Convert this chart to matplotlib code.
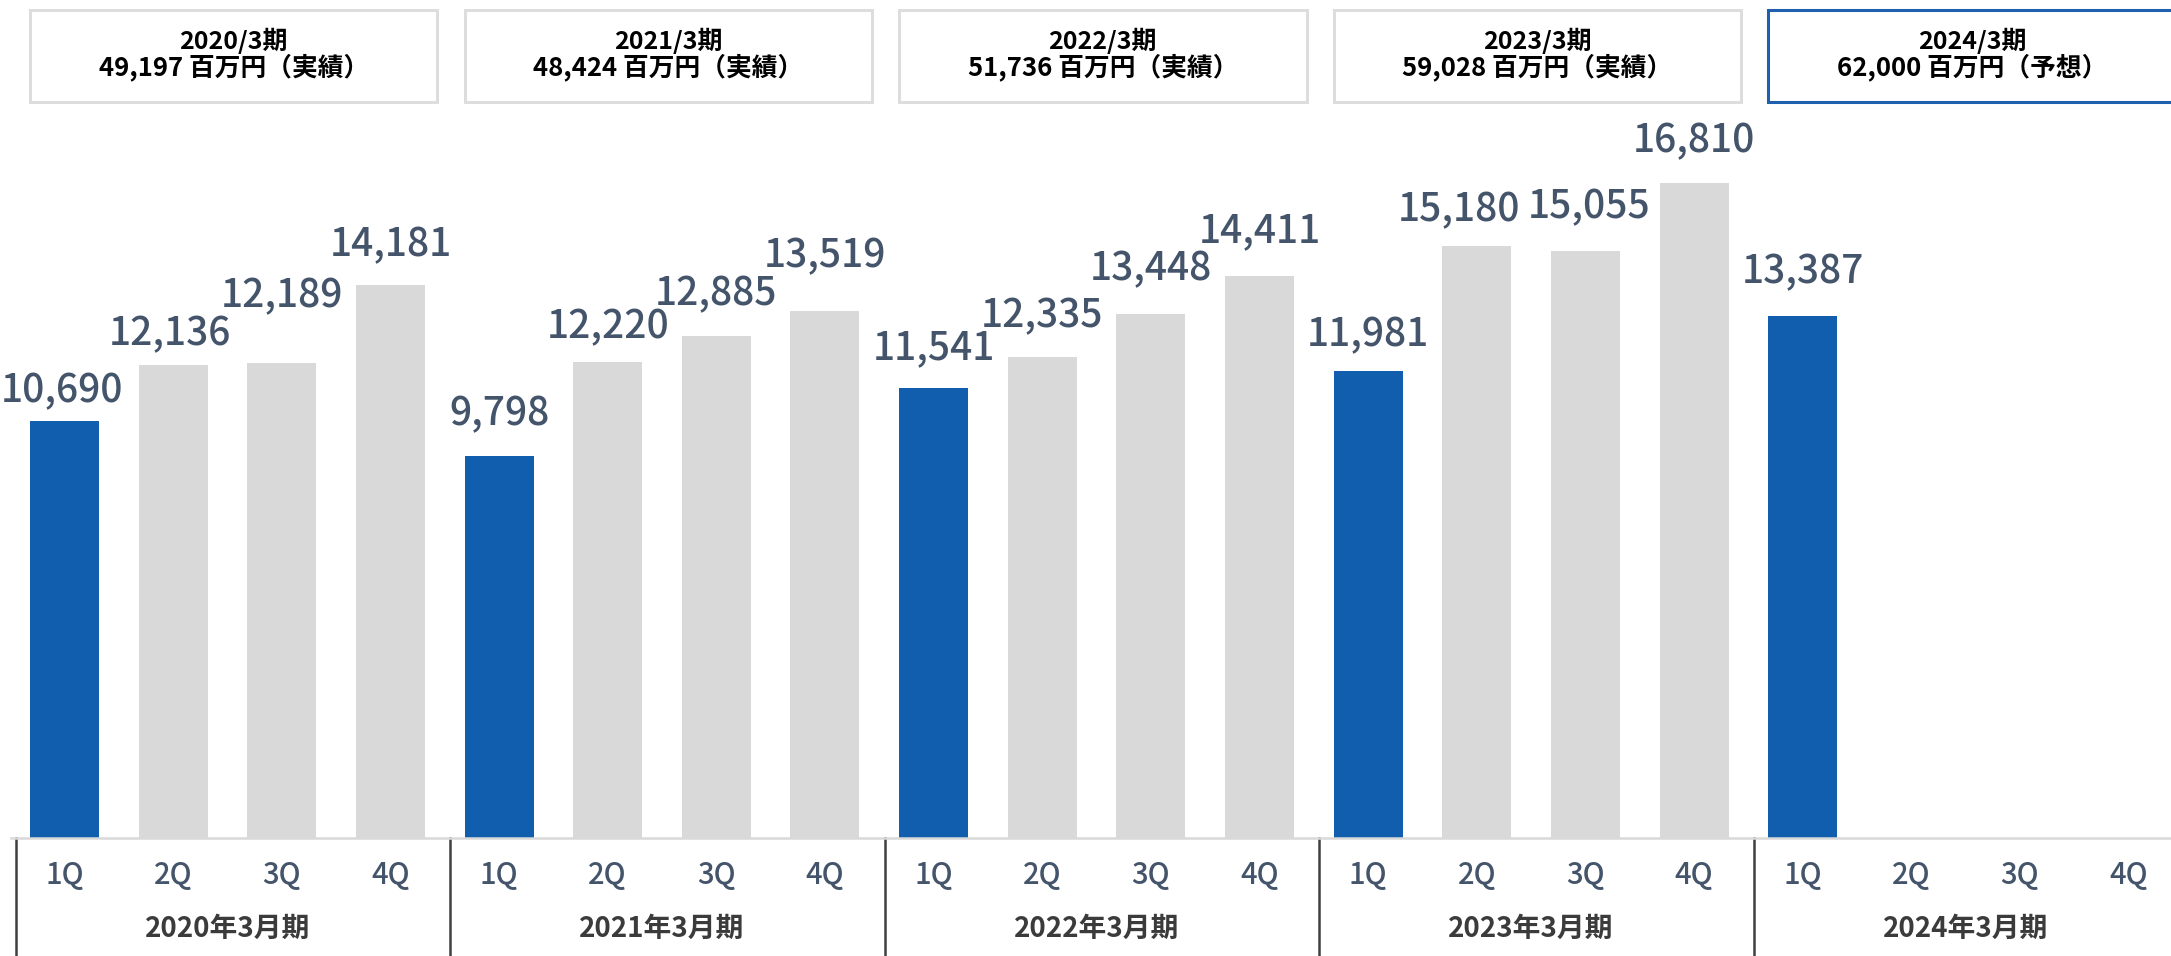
import matplotlib.pyplot as plt
from matplotlib.patches import Rectangle
from matplotlib import transforms
import numpy as np

plt.rcParams['font.family'] = ['Noto Sans CJK JP', 'DejaVu Sans']

# data
years = ['2020', '2021', '2022', '2023', '2024']
quarters = ['1Q', '2Q', '3Q', '4Q']
values = [
    [10690, 12136, 12189, 14181],
    [9798, 12220, 12885, 13519],
    [11541, 12335, 13448, 14411],
    [11981, 15180, 15055, 16810],
    [13387, None, None, None],
]
annual_values = ['49,197', '48,424', '51,736', '59,028', '62,000']
annual_kind = ['実績', '実績', '実績', '実績', '予想']

# where each value label sits relative to its bar top (dx, dy in points),
# hand placed in the original to keep them apart
label_offset = [
    [(-2, 14), (-2, 14), (0, 40), (0, 21)],
    [(0, 22), (0, 17), (0, 22), (0, 32)],
    [(0, 21), (0, 22), (0, 24), (0, 25)],
    [(0, 18), (-13, 18), (3, 24), (0, 22)],
    [(0, 24), None, None, None],
]

blue = '#105EAD'
grey = '#D9D9D9'
label_col = '#44546A'

fig = plt.figure(figsize=(21.71, 9.56), dpi=100)
ax = fig.add_axes([0, 118 / 956, 1, 838 / 956])
ax.set_xlim(-0.594, 19.39)
ax.set_ylim(0, 21504)
ax.axis('off')

bx = transforms.blended_transform_factory(ax.transData, ax.transAxes)

for g, yr in enumerate(years):
    for q in range(4):
        v = values[g][q]
        x = g * 4 + q
        if v is not None:
            ax.bar(x, v, width=0.635, color=blue if q == 0 else grey, zorder=2)
            ax.annotate(f'{v:,}', (x, v), xytext=label_offset[g][q],
                        textcoords='offset points', ha='center', va='baseline',
                        fontsize=28, color=label_col, fontweight='medium')
        ax.text(x, -0.0453, quarters[q], transform=bx, ha='center', va='center',
                fontsize=21, color=label_col, fontweight='medium')
    # group label and divider
    ax.text(g * 4 + 1.5, -0.1086, f'{yr}年3月期', transform=bx, ha='center',
            va='center', fontsize=20, fontweight='bold', color='#3B3B3B')
    ax.plot([g * 4 - 0.45, g * 4 - 0.45], [0, -0.141], transform=bx,
            color='#404040', lw=1.8, clip_on=False)
    # annual box on top
    left = g * 4 - 0.3175
    ec = '#1F5FAF' if annual_kind[g] == '予想' else '#DDDDDD'
    ax.add_patch(Rectangle((left, 0.878), 3.75, 0.110, transform=bx,
                           facecolor='white', edgecolor=ec, lw=2.2, clip_on=False))
    ax.text(left + 1.875, 0.951, f'{yr}/3期', transform=bx, ha='center',
            va='center', fontsize=18, fontweight='bold', color='black')
    ax.text(left + 1.875, 0.920, f'{annual_values[g]} 百万円（{annual_kind[g]}）',
            transform=bx, ha='center', va='center', fontsize=18.5,
            fontweight='bold', color='black')

ax.plot([-0.49, 19.6], [0, 0], color=grey, lw=1.8, clip_on=False, zorder=3)

fig.savefig('out.png', dpi=100)
